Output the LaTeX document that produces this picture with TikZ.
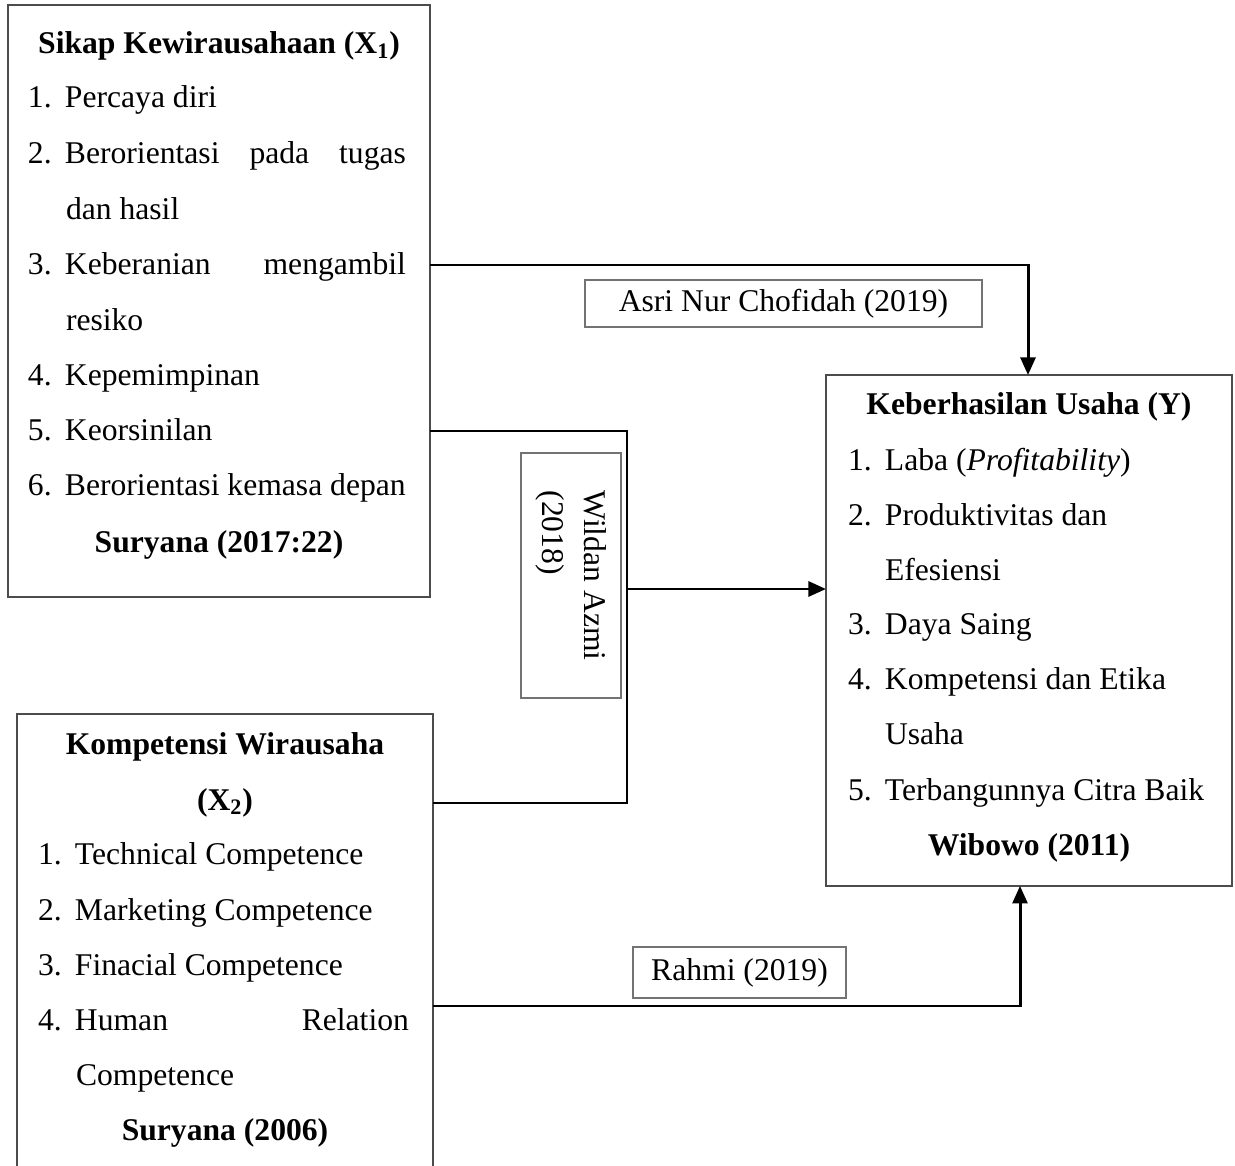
\documentclass[tikz,border=0pt]{standalone}
\usepackage{fontspec}
\setmainfont{Liberation Serif}
\newcommand*{\mainsize}{\fontsize{18}{22}\selectfont}
\newcommand*{\itemno}[1]{\makebox[0.74cm][l]{#1.}}
\newcommand*{\spreadline}[2]{\hbox to #1{#2}}
\definecolor{boxline}{gray}{0.30}
\definecolor{tagline}{gray}{0.45}
\usetikzlibrary{arrows.meta}
\usetikzlibrary{positioning}
\tikzstyle{base}=[x=0.02cm, y=-0.02cm, inner sep=0pt, outer sep=0pt, font=\mainsize]
\tikzstyle{frame}=[draw=boxline, line width=0.9pt, anchor=north west]
\tikzstyle{tag}=[draw=tagline, line width=0.8pt, fill=white]
\tikzstyle{item}=[anchor=base west]
\tikzstyle{head}=[anchor=base, font=\mainsize\bfseries]
\tikzstyle{link}=[black, line width=1.7pt]
\tikzstyle{linkarrow}=[link, -{Triangle[length=10pt, width=8.5pt]}]

\begin{document}
\begin{tikzpicture}[base]
    \path [use as bounding box] (0,0) rectangle (1235,1166);
    \clip (0,0) rectangle (1235,1166);
        % boxes
        \node [frame, minimum width=8.44cm, minimum height=11.84cm] (x1) at (8,5) {};
        \node [frame, minimum width=8.32cm, minimum height=9.6cm] (x2) at (17,714) {};
        \node [frame, minimum width=8.12cm, minimum height=10.22cm] (y) at (826,375) {};
        % X1
        \node [head] (x1title) at (219,54) {Sikap Kewirausahaan (X\textsubscript{1})};
        \node [item] (x1a) at (28,108) {\itemno{1}Percaya diri};
        \node [item] (x1b) at (28,164) {\itemno{2}\spreadline{6.82cm}{Berorientasi\hfill pada\hfill tugas}};
        \node [item] (x1c) at (66,219) {dan hasil};
        \node [item] (x1d) at (28,275) {\itemno{3}\spreadline{6.82cm}{Keberanian\hfill mengambil}};
        \node [item] (x1e) at (66,330) {resiko};
        \node [item] (x1f) at (28,385) {\itemno{4}Kepemimpinan};
        \node [item] (x1g) at (28,440) {\itemno{5}Keorsinilan};
        \node [item] (x1h) at (28,495) {\itemno{6}Berorientasi kemasa depan};
        \node [head] (x1src) at (219,552) {Suryana (2017:22)};
        % X2
        \node [head] (x2title) at (225,754) {Kompetensi Wirausaha};
        \node [head] (x2var) at (225,810) {(X\textsubscript{2})};
        \node [item] (x2a) at (38,864) {\itemno{1}Technical Competence};
        \node [item] (x2b) at (38,920) {\itemno{2}Marketing Competence};
        \node [item] (x2c) at (38,975) {\itemno{3}Finacial Competence};
        \node [item] (x2d) at (38,1030) {\itemno{4}\spreadline{6.68cm}{Human\hfill Relation}};
        \node [item] (x2e) at (76,1085) {Competence};
        \node [head] (x2src) at (225,1140) {Suryana (2006)};
        % Y
        \node [head] (ytitle) at (1029,414) {Keberhasilan Usaha (Y)};
        \node [item] (ya) at (848,470) {\itemno{1}Laba (\textit{Profitability})};
        \node [item] (yb) at (848,525) {\itemno{2}Produktivitas dan};
        \node [item] (yc) at (885,580) {Efesiensi};
        \node [item] (yd) at (848,634) {\itemno{3}Daya Saing};
        \node [item] (ye) at (848,689) {\itemno{4}Kompetensi dan Etika};
        \node [item] (yf) at (885,744) {Usaha};
        \node [item] (yg) at (848,800) {\itemno{5}Terbangunnya Citra Baik};
        \node [head] (ysrc) at (1029,855) {Wibowo (2011)};
        % connectors
        \coordinate (t1) at (1028,265);
        \coordinate (k1) at (627,431);
        \coordinate (k2) at (627,803);
        \coordinate (j) at (627,589);
        \coordinate (t3) at (1020,1006);
        \draw [linkarrow] (x1.east |- t1) -- (t1) -- (y.north -| t1);
        \draw [link] (x1.east |- k1) -- (k1) -- (k2) -- (x2.east |- k2);
        \draw [linkarrow] (j) -- (y.west |- j);
        \draw [linkarrow] (x2.east |- t3) -- (t3) -- (y.south -| t3);
        % labels
        \node [tag, minimum width=7.94cm, minimum height=0.94cm] (asri) at (783.5,303.5) {Asri Nur Chofidah (2019)};
        \node [tag, minimum width=4.26cm, minimum height=1.02cm] (rahmi) at (739.5,972.5) {Rahmi (2019)};
        \node [tag, rotate=-90, align=left, minimum width=4.9cm, minimum height=2cm] (wildan) at (571,575.5) {Wildan Azmi\\[2pt](2018)};
    \end{tikzpicture}
\end{document}
